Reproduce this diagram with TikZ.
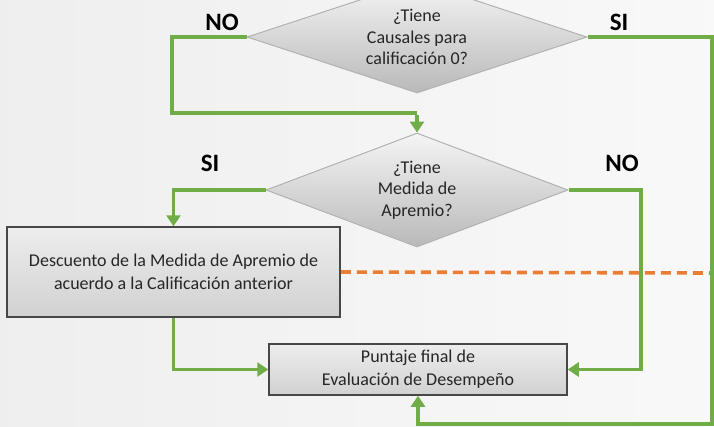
\documentclass[tikz,border=0pt]{standalone}
\usepackage{fontspec}
\setmainfont{Carlito}
\usetikzlibrary{shapes.geometric,arrows.meta}
\definecolor{flowgreen}{HTML}{70AD47}
\definecolor{dashorange}{HTML}{ED7D31}
\definecolor{txt}{HTML}{262626}
\tikzset{
  decision/.style={diamond, inner sep=0pt, aspect=3, top color=gray!8, bottom color=gray!55, draw=gray!60, line width=1pt, text=txt, align=center, font=\fontsize{18}{21.5}\selectfont},
  procbox/.style={rectangle, inner sep=0pt, top color=gray!14, bottom color=gray!36, draw=black!72, line width=1.5pt, text=txt, align=center, font=\fontsize{18}{23}\selectfont},
  flow/.style={draw=flowgreen, line width=3.3pt, -{Triangle[width=14pt,length=11pt]}},
  flowplain/.style={draw=flowgreen, line width=3.3pt},
  answer/.style={font=\fontsize{25}{28}\selectfont\bfseries, text=black},
  sep/.style={draw=dashorange, line width=3.6pt, dash pattern=on 10pt off 6pt}
}
\begin{document}
\begin{tikzpicture}[x=1pt,y=-1pt]
\shade[left color=gray!13, right color=gray!5] (0,0) rectangle (714,426);
\useasboundingbox (0,0) rectangle (714,426);

% nodes
\node[decision, minimum width=340pt, minimum height=112pt] (d1) at (417,37) {¿Tiene\\Causales para\\calificación 0?};
\node[decision, minimum width=302pt, minimum height=114pt] (d2) at (417,190) {¿Tiene\\Medida de\\Apremio?};
\node[procbox, minimum width=333pt, minimum height=90pt] (b1) at (173.5,272) {Descuento de la Medida de Apremio de\\acuerdo a la Calificación anterior};
\node[procbox, minimum width=298pt, minimum height=51pt] (b2) at (418,369.5) {Puntaje final de\\Evaluación de Desempeño};

\node[answer] (no1) at (222,22) {NO};
\node[answer] (si1) at (619,22) {SI};
\node[answer] (si2) at (210,163) {SI};
\node[answer] (no2) at (622,163) {NO};

\coordinate (k1) at (172,113);
\coordinate (k2) at (641,190);
\coordinate (k3) at (712,424);
\coordinate (e1) at (714,273);

% separator
\draw[sep] (b1.east) -- (e1);

% connectors
\draw[flowplain] (d1.west) -| (k1) -- (k1 -| d2.north);
\draw[flow] ([yshift=-1.6pt]k1 -| d2.north) -- (d2.north);
\draw[flow] (d2.west) -| (b1.north);
\draw[flow] (b1.south) |- (b2.west);
\draw[flow] (d2.east) -| (k2 |- b2.east) -- (b2.east);
\draw[flow] (d1.east) -| (k3) -| (b2.south);
\end{tikzpicture}
\end{document}
